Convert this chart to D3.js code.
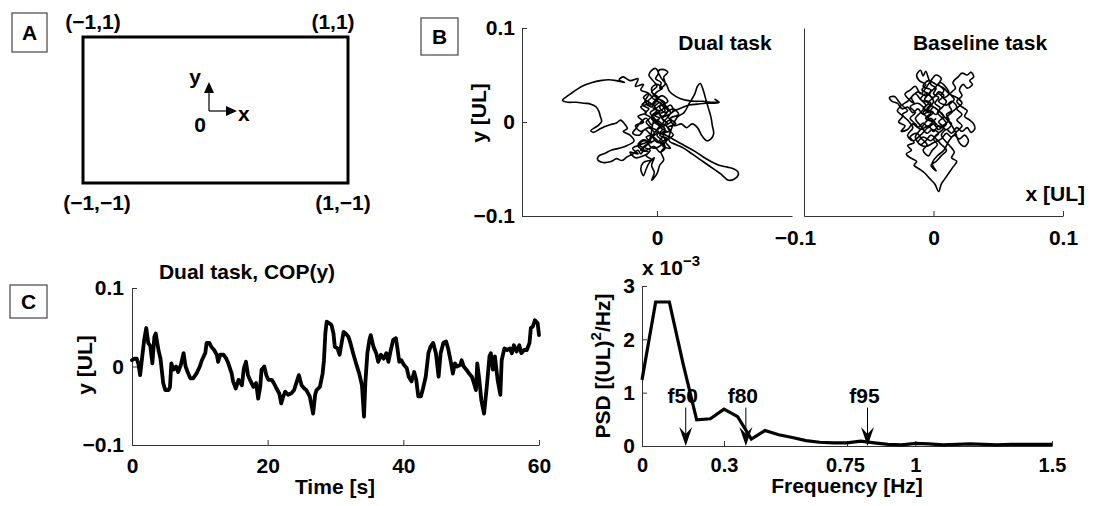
<!DOCTYPE html>
<html>
<head>
<meta charset="utf-8">
<script src="https://cdn.jsdelivr.net/npm/d3@7"></script>
<style>
  body { margin: 0; background: #fff; }
  svg { display: block; }
  text { font-family: "Liberation Sans", Arial, Helvetica, sans-serif; font-weight: bold; fill: #000; }
</style>
</head>
<body>
<svg id="fig" width="1095" height="506"></svg>
<script>
// ---------- Panel B: COP trajectories, in units of 10^-3 UL ----------
const dualX = [0,-4,2,-3,3,6,1,-5,-9,-6,-12,-10,-16,-14,-20,-25,-28,-24,-30,
  -36,-42,-48,-54,-59,-64,-68,-70,-66,-60,-54,-49,-45,-43,-42,-41,-43,-46,-49,-47,-43,-39,-35,-30,-27,-24,-22,-25,-20,
  -17,-22,-28,-34,-38,-43,-44,-40,-34,-30,-26,-22,-18,-14,-12,-10,-14,-10,-6,-9,-5,-8,-4,-10,-12,-10,-8,-6,
  -2,-4,-2,-4,0,2,5,3,6,2,5,-1,3,-2,2,-3,0,
  -3,1,-4,0,-3,-6,-4,-1,1,-1,3,2,6,5,8,4,1,3,7,9,13,17,
  22,28,34,40,45,43,46,42,36,30,24,18,13,9,
  4,8,3,7,2,6,1,-3,1,-4,-8,-5,-9,-6,-11,-7,-2,2,6,10,12,8,11,7,10,5,
  9,14,19,24,29,34,40,46,52,57,60,60,57,53,50,47,43,38,32,26,20,14,9,
  15,20,24,28,30,32,34,36,38,40,41,42,40,37,33,30,26,22,18,
  13,9,5,0,-4,-8,-12,-15,-18,-13,-9,-5,-1,3,-2,-6,-3,1,5,2,6,3,-1,-5,-2,1,
  6,2,8,4,10,6,12,8,14,10,16,12,6,2,8,4,-2,-6,-10,-6,-12,-8,-14,-10,-16,-12,-6,-2,-8,-4,-10,-14,-8,-2,2,6,4,0,4,0,
  -4,0,4,8,4,0,-4,-8,-4,0,4,0,-4,-2,2,6,10,6,2,-2,
  -6,-12,-18,-14,-20,-16,-10,-6,-12,-8,-2];
const dualY = [0,6,10,15,12,20,24,18,22,30,34,40,38,46,44,48,45,42,44,
  45,44,42,39,35,30,26,23,21,21,20,19,16,11,6,1,-3,-6,-9,-11,-8,-5,-3,-1,2,-2,-7,-10,-14,
  -20,-25,-28,-30,-33,-36,-40,-43,-42,-39,-41,-37,-34,-30,-34,-28,-24,-19,-22,-27,-30,-36,-40,-43,-50,-57,-50,-44,
  -38,-46,-54,-62,-55,-46,-40,-32,-26,-20,-14,-10,-5,0,4,8,12,
  20,26,32,38,44,50,55,57,52,46,42,36,40,48,53,56,54,47,40,33,28,25,
  23,22,22,21,22,24,21,20,20,19,18,15,12,8,
  4,-2,-6,-10,-14,-18,-22,-16,-10,-6,0,5,9,14,18,22,17,21,15,18,12,6,1,-4,-9,-12,
  -16,-20,-24,-28,-32,-37,-42,-46,-48,-50,-53,-57,-61,-62,-59,-55,-51,-46,-40,-34,-28,-24,-20,
  5,10,20,30,38,41,35,25,15,5,-4,-12,-18,-20,-14,-6,-2,-6,-2,
  -4,2,-3,2,-3,4,0,-6,-12,-14,-8,-13,-18,-24,-28,-24,-14,-6,0,8,12,18,14,10,4,-1,
  -8,-14,-18,-25,-28,-20,-14,-6,-2,4,8,14,10,16,22,28,24,30,26,20,16,10,6,0,-4,-10,-6,-12,-16,-22,-20,-26,-30,-26,-32,-28,-20,-14,-8,-2,
  4,10,6,12,18,22,16,20,26,32,36,40,36,28,24,18,10,2,-4,2,
  -20,-24,-28,-34,-32,-38,-36,-32,-30,-24,-20];

const baseX = [0,-4,0,-5,-2,-7,-4,-9,-6,-11,-13,-10,-8,-6,-4,-2,2,0,4,1,5,2,-3,-8,-12,-16,-20,-24,-28,-32,-34,-30,-27,-25,-28,-24,-27,-22,-25,-20,
  -16,-12,-8,-4,0,4,8,12,10,14,12,16,13,17,15,19,22,26,29,31,28,30,26,23,20,22,18,22,26,24,28,31,32,29,26,22,18,14,10,6,
  9,13,16,14,18,15,12,9,6,4,1,-3,-7,-11,-15,-13,-18,-21,-17,-20,-15,-18,-13,-9,-5,-8,-4,-1,3,0,4,-1,-5,-10,-14,-10,-6,-10,-14,-17,
  -15,-19,-22,-18,-14,-10,-6,-2,2,6,4,8,6,10,7,3,7,10,6,2,-2,-6,-10,-14,-10,-6,-2,2,6,10,6,2,-2,2,-1,3,8,12,16,20,24,27,24,20,
  16,12,8,4,0,-4,0,4,8,12,9,5,1,-3,0,-4,-8,-4,0,
  -6,-2,-8,-4,-10,-6,0,4,8,4,10,14,18,14,10,14,10,4,0,-4,-10,-14,-18,-14,-18,-12,-8,-4,0,4,8,4,8,2,-2,-8,-12,-6,0,6,10,14,18,22,
  18,22,18,22,18,12,8,2,-4,-8,-2,-6,-12,-16,-20,-24,-20,-24,-20,-16,-20,-16,-10,-6,-2,2];
const baseY = [0,5,10,14,20,24,30,34,40,44,50,55,49,54,47,40,36,30,26,20,15,8,12,8,14,10,16,14,20,22,26,27,22,18,12,6,0,-4,-10,-8,
  -2,-6,-1,-6,-2,-8,-3,2,8,12,18,24,30,36,42,48,52,50,53,48,44,40,36,40,34,28,22,16,12,6,2,-2,-7,-11,-6,-10,-6,-12,-8,-14,
  -20,-26,-32,-38,-42,-48,-54,-60,-66,-74,-66,-60,-54,-50,-46,-42,-38,-34,-30,-25,-22,-16,-12,-18,-24,-30,-36,-30,-24,-18,-12,-8,-12,-4,4,10,18,24,30,26,
  20,24,30,34,38,30,36,44,50,46,40,34,28,22,16,10,4,-2,-6,-2,4,0,-8,-16,-24,-20,-14,-18,-24,-30,-36,-42,-46,-52,-44,-36,-30,-20,-14,-18,-14,-20,-26,-22,
  -8,0,6,12,16,20,26,30,26,30,38,42,36,30,22,14,10,4,0,
  4,10,14,20,24,30,26,32,28,22,18,22,16,10,4,-2,-8,-4,-10,-4,-8,-2,4,10,16,20,16,10,16,12,6,0,-6,-14,-20,-16,-22,-26,-22,-18,-12,-16,-10,-4,
  2,8,14,20,26,30,36,40,44,38,34,28,32,28,22,18,12,8,2,-6,-14,-20,-14,-8,-2,4];

// ---------- Panel C: COP(y) time series ----------
const copTime = [0.0,0.4,0.7,0.95,1.2,1.5,1.8,2.1,2.4,2.7,3.0,3.3,3.5,3.9,4.2,4.6,4.9,5.4,5.6,5.8,6.1,6.5,6.8,7.2,7.6,7.9,8.2,8.6,9.0,9.5,10.0,10.3,10.8,11.0,11.4,11.7,12.1,12.5,12.7,13.0,13.5,13.9,14.2,14.7,14.9,15.3,15.7,16.2,16.5,16.8,17.1,17.5,17.9,18.3,18.6,18.9,19.1,19.5,19.8,20.1,20.6,20.9,21.3,21.7,22.0,22.3,22.6,23.0,23.5,23.9,24.3,24.6,25.0,25.4,25.7,26.2,26.5,26.7,27.0,27.2,27.7,28.1,28.3,28.5,28.7,29.1,29.4,29.7,29.9,30.3,30.6,30.9,31.2,31.5,31.9,32.2,32.6,33.1,33.5,33.9,34.2,34.4,34.7,35.0,35.2,35.6,36.0,36.3,36.7,37.1,37.5,37.8,38.1,38.5,38.9,39.1,39.4,39.7,40.1,40.5,40.8,41.2,41.6,41.9,42.2,42.6,42.9,43.3,43.7,44.0,44.4,44.8,45.2,45.5,45.9,46.3,46.6,47.0,47.3,47.6,47.9,48.4,48.6,48.9,49.3,49.7,50.1,50.4,50.7,50.9,51.2,51.5,51.9,52.3,52.7,52.9,53.2,53.5,53.9,54.3,54.5,54.9,55.3,55.7,56.0,56.3,56.7,57.1,57.4,57.8,58.2,58.6,58.8,59.1,59.4,59.8,60.0];
const copY = [0.008,0.010,0.010,0.003,-0.011,0.012,0.034,0.049,0.030,0.026,0.004,0.038,0.042,0.021,0.010,-0.021,-0.030,-0.030,-0.026,0.004,-0.004,0.000,-0.007,0.002,0.017,0.000,-0.007,-0.015,-0.015,-0.009,0.000,0.008,0.017,0.030,0.030,0.025,0.021,0.015,0.006,0.015,0.015,0.010,0.004,-0.009,-0.019,-0.028,-0.017,-0.024,-0.002,0.006,-0.011,-0.019,-0.026,-0.021,-0.041,-0.026,-0.004,0.000,-0.011,-0.017,-0.017,-0.021,-0.028,-0.034,-0.047,-0.038,-0.032,-0.036,-0.034,-0.030,-0.019,-0.011,-0.024,-0.028,-0.030,-0.038,-0.051,-0.060,-0.036,-0.030,-0.026,-0.009,0.008,0.042,0.057,0.055,0.053,0.042,0.025,0.023,0.015,0.030,0.044,0.042,0.038,0.030,0.017,0.002,-0.009,-0.024,-0.064,-0.021,0.017,0.034,0.040,0.025,0.017,0.006,0.015,0.010,0.017,0.006,0.019,0.034,0.036,0.025,0.006,0.008,0.002,-0.002,-0.013,-0.019,-0.007,-0.017,-0.038,-0.038,-0.028,-0.013,0.017,0.025,0.030,0.017,-0.013,0.017,0.030,0.032,0.023,0.006,-0.009,0.004,0.000,0.002,0.008,0.000,-0.004,-0.009,-0.013,-0.021,-0.030,0.004,-0.017,-0.043,-0.060,-0.026,0.013,0.017,-0.004,0.013,-0.017,-0.036,0.008,0.023,0.021,0.023,0.017,0.027,0.019,0.027,0.017,0.021,0.021,0.030,0.049,0.051,0.059,0.055,0.040];

// ---------- Panel D: power spectral density (x 10^-3) ----------
const psdFreq = [0,0.05,0.1,0.15,0.2,0.25,0.3,0.35,0.4,0.45,0.5,0.55,0.6,0.65,0.7,0.75,0.8,0.85,0.9,0.95,1,1.05,1.1,1.15,1.2,1.25,1.3,1.35,1.4,1.45,1.5];
const psdVal  = [1.24,2.70,2.70,1.55,0.49,0.51,0.69,0.55,0.13,0.29,0.21,0.16,0.10,0.07,0.06,0.06,0.09,0.06,0.03,0.02,0.05,0.04,0.02,0.03,0.04,0.03,0.02,0.03,0.03,0.03,0.03];
const markerNames = ["f50","f80","f95"];
const markerFreq  = [0.16,0.38,0.825];

// tick values
const bTicks = [-100, 0, 100];          // 10^-3 UL
const cTicks = [-0.1, 0, 0.1];
const timeTicks = [0, 20, 40, 60];
const freqTicks = [0, 0.3, 0.75, 1, 1.5];
const psdTicks = [0, 1, 2, 3];
const cornerLabels = ["(\u22121,1)", "(1,1)", "(\u22121,\u22121)", "(1,\u22121)"];

// ---------- drawing ----------
const svg = d3.select("#fig");
const FONT = '"Liberation Sans", Arial, Helvetica, sans-serif';
const AXC = "#333";
const FS = 21;
const fmt = d3.format("~g");
const fmtMilli = v => fmt(v / 1000);

function styleAxis(g) {
  g.attr("font-family", FONT).attr("font-size", FS).attr("font-weight", "bold");
  g.selectAll(".domain").attr("stroke", AXC).attr("stroke-width", 1);
  g.selectAll(".tick line").attr("stroke", AXC);
  g.selectAll(".tick text").attr("fill", "#000");
  return g;
}
function label(x, y, txt, anchor, size) {
  return svg.append("text").attr("x", x).attr("y", y)
    .attr("text-anchor", anchor || "middle").attr("font-size", size || FS).text(txt);
}
function vlabel(x, y, txt) {
  return svg.append("text").attr("transform", `translate(${x},${y}) rotate(-90)`)
    .attr("text-anchor", "middle").attr("font-size", FS).text(txt);
}
function panelBox(x, y, w, h, letter) {
  svg.append("rect").attr("x", x).attr("y", y).attr("width", w).attr("height", h)
    .attr("fill", "#fff").attr("stroke", "#444").attr("stroke-width", 1.2);
  svg.append("text").attr("x", x + w / 2).attr("y", y + h / 2).attr("dy", "0.36em")
    .attr("text-anchor", "middle").attr("font-size", FS).text(letter);
}

// ===== Panel A: normalised platform coordinates =====
panelBox(12, 13, 35, 39, "A");
const ax = d3.scaleLinear([-1, 1], [83, 348]);
const ay = d3.scaleLinear([-1, 1], [183, 37]);
svg.append("rect").attr("x", ax(-1)).attr("y", ay(1))
  .attr("width", ax(1) - ax(-1)).attr("height", ay(-1) - ay(1))
  .attr("fill", "none").attr("stroke", "#000").attr("stroke-width", 3);
const cornerPos = [[-1, 1, 10, -8], [1, 1, -15, -8], [-1, -1, 14, 27], [1, -1, -5, 27]];
cornerPos.forEach((c, i) => label(ax(c[0]) + c[2], ay(c[1]) + c[3], cornerLabels[i]));
// small axis glyph at the platform centre
const o = [209, 111];
svg.append("line").attr("x1", o[0]).attr("y1", o[1]).attr("x2", o[0]).attr("y2", o[1] - 20)
  .attr("stroke", "#000").attr("stroke-width", 1.2);
svg.append("path").attr("d", `M${o[0]},${o[1] - 29}L${o[0] - 5},${o[1] - 18}L${o[0] + 5},${o[1] - 18}Z`);
svg.append("line").attr("x1", o[0]).attr("y1", o[1]).attr("x2", o[0] + 18).attr("y2", o[1])
  .attr("stroke", "#000").attr("stroke-width", 1.2);
svg.append("path").attr("d", `M${o[0] + 28},${o[1]}L${o[0] + 17},${o[1] - 5}L${o[0] + 17},${o[1] + 5}Z`);
label(195, 84, "y");
label(238, 121, "x", "start");
label(200, 132, "0");

// ===== Panel B: COP trajectories =====
panelBox(421, 18, 37, 37, "B");
const bxL = d3.scaleLinear([-100, 100], [522, 792]);
const bxR = d3.scaleLinear([-100, 100], [804, 1063]);
const by = d3.scaleLinear([-100, 100], [216, 28]);

styleAxis(svg.append("g").attr("transform", "translate(522,0)")
  .call(d3.axisLeft(by).tickValues(bTicks).tickFormat(fmtMilli).tickSizeInner(-5).tickSizeOuter(0).tickPadding(7)));
styleAxis(svg.append("g").attr("transform", "translate(0,216)")
  .call(d3.axisBottom(bxL).tickValues([0]).tickFormat(fmtMilli).tickSizeInner(-5).tickSizeOuter(0).tickPadding(14)));
styleAxis(svg.append("g").attr("transform", "translate(804,0)")
  .call(d3.axisLeft(by).tickValues([]).tickSizeOuter(0)));
const bxAxisR = styleAxis(svg.append("g").attr("transform", "translate(0,216)")
  .call(d3.axisBottom(bxR).tickValues(bTicks).tickFormat(fmtMilli).tickSizeInner(-5).tickSizeOuter(0).tickPadding(14)));
bxAxisR.selectAll(".tick text").filter(d => d < 0).attr("dx", -9);

const trajLine = (sx) => d3.line().x(d => sx(d[0])).y(d => by(d[1])).curve(d3.curveCatmullRom.alpha(0.5));
svg.append("path").datum(dualX.map((v, i) => [v, dualY[i]]))
  .attr("d", trajLine(bxL)).attr("fill", "none").attr("stroke", "#000")
  .attr("stroke-width", 1.6).attr("stroke-linejoin", "round");
svg.append("path").datum(baseX.map((v, i) => [v, baseY[i]]))
  .attr("d", trajLine(bxR)).attr("fill", "none").attr("stroke", "#000")
  .attr("stroke-width", 1.6).attr("stroke-linejoin", "round");

label(725, 50, "Dual task");
label(980, 50, "Baseline task");
vlabel(486, 113, "y [UL]");
label(1085, 201, "x [UL]", "end");

// ===== Panel C: COP(y) over time =====
panelBox(10, 285, 37, 33, "C");
const cx = d3.scaleLinear([0, 60], [132, 539]);
const cy = d3.scaleLinear([-0.1, 0.1], [445, 288]);
styleAxis(svg.append("g").attr("transform", "translate(132,0)")
  .call(d3.axisLeft(cy).tickValues(cTicks).tickFormat(fmt).tickSizeInner(-5).tickSizeOuter(0).tickPadding(8)));
styleAxis(svg.append("g").attr("transform", "translate(0,445)")
  .call(d3.axisBottom(cx).tickValues(timeTicks).tickFormat(fmt).tickSizeInner(-5).tickSizeOuter(0).tickPadding(13)));
svg.append("path").datum(copTime.map((t, i) => [t, copY[i]]))
  .attr("d", d3.line().x(d => cx(d[0])).y(d => cy(d[1])))
  .attr("fill", "none").attr("stroke", "#000").attr("stroke-width", 3.8)
  .attr("stroke-linejoin", "round").attr("stroke-linecap", "round");
label(247, 279, "Dual task, COP(y)");
label(335, 494, "Time [s]");
vlabel(92, 365, "y [UL]");

// ===== Panel D: PSD =====
const dx = d3.scaleLinear([0, 1.5], [642, 1052]);
const dy = d3.scaleLinear([0, 3], [446, 286]);
styleAxis(svg.append("g").attr("transform", "translate(642,0)")
  .call(d3.axisLeft(dy).tickValues(psdTicks).tickFormat(fmt).tickSizeInner(-5).tickSizeOuter(0).tickPadding(7)));
const dAxisX = styleAxis(svg.append("g").attr("transform", "translate(0,446)")
  .call(d3.axisBottom(dx).tickValues(freqTicks).tickFormat(fmt).tickSizeInner(-5).tickSizeOuter(0).tickPadding(12)));
dAxisX.selectAll(".tick text").attr("font-size", 20);
dAxisX.selectAll(".tick text").filter(d => d === 0.75).attr("dx", -2);
svg.append("path").datum(psdFreq.map((f, i) => [f, psdVal[i]]))
  .attr("d", d3.line().x(d => dx(d[0])).y(d => dy(d[1])))
  .attr("fill", "none").attr("stroke", "#000").attr("stroke-width", 3.2)
  .attr("stroke-linejoin", "miter");

// f50 / f80 / f95 markers
const arrowTop = 0.72;
markerFreq.forEach((f, i) => {
  const x = dx(f), y0 = dy(arrowTop), y1 = dy(0);
  svg.append("line").attr("x1", x).attr("x2", x).attr("y1", y0).attr("y2", y1 - 8)
    .attr("stroke", "#000").attr("stroke-width", 1);
  svg.append("path").attr("d", `M${x},${y1}L${x - 6.5},${y1 - 19}L${x},${y1 - 12}L${x + 6.5},${y1 - 19}Z`);
  label(x - 3, y0 - 5, markerNames[i]);
});

const expo = svg.append("text").attr("x", 642).attr("y", 275).attr("font-size", FS);
expo.append("tspan").text("x 10");
expo.append("tspan").attr("font-size", 15).attr("dy", -9).text("\u22123");

const psdLab = svg.append("text").attr("transform", "translate(610,366) rotate(-90)")
  .attr("text-anchor", "middle").attr("font-size", FS);
psdLab.append("tspan").text("PSD [(UL)");
psdLab.append("tspan").attr("font-size", 15).attr("dy", -9).text("2");
psdLab.append("tspan").attr("dy", 9).text("/Hz]");
label(847, 493, "Frequency [Hz]");
</script>
</body>
</html>
